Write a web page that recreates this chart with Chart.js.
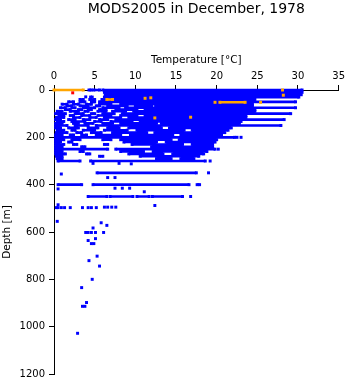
<!DOCTYPE html>
<html>
<head>
<meta charset="utf-8">
<script src="https://cdn.jsdelivr.net/npm/chart.js@4.4.1/dist/chart.umd.min.js"></script>
<style>
  html,body{margin:0;padding:0;background:#fff;}
  #wrap{width:348px;height:384px;}
</style>
</head>
<body>
<div id="wrap"><canvas id="profile"></canvas></div>
<script>
/* ---------------- observations: December 1978 ---------------- */

const TITLE = "MODS2005 in December, 1978";
const X_TICKS = [0, 5, 10, 15, 20, 25, 30, 35];
const Y_TICKS = [0, 200, 400, 600, 800, 1000, 1200];

// dense casts: [depth, tFrom, tTo, tFrom, tTo, ...]
const blueRows = [
  [0, 4.3,4.6, 4.9,5.6, 6.0,30.5],
  [10, 6.2,30.5],
  [20, 6.3,30.4],
  [30, 4.5,4.7, 6.2,30.1],
  [40, 3.2,3.6, 4.4,5.0, 5.9,24.7],
  [50, 1.8,2.4, 3.2,3.8, 4.6,5.0, 5.6,29.7],
  [60, 1.0,1.6, 2.4,3.0, 4.0,4.6, 5.6,7.0, 8.2,24.4],
  [67, 1.6,2.2, 3.2,4.2, 5.2,5.6, 6.6,9.0, 10.0,12.0, 12.5,24.4],
  [75, 0.8,1.4, 2.2,2.6, 3.6,5.0, 6.0,8.0, 8.8,29.7],
  [83, 1.4,2.0, 3.0,3.4, 4.2,4.6, 5.6,6.4, 7.6,10.2, 11.2,24.7],
  [90, 0.4,1.0, 2.0,3.0, 3.8,4.2, 5.4,6.4, 7.2,8.8, 9.8,24.7],
  [100, 0.2,1.4, 2.6,3.6, 4.6,5.0, 6.0,7.4, 8.4,29.1],
  [108, 0.6,1.2, 2.0,2.4, 3.4,4.4, 5.4,7.0, 8.2,10.2, 11.2,23.6],
  [116, 0.3,1.2, 2.4,3.2, 4.4,5.2, 6.2,8.2, 9.2,23.6],
  [125, 0.2,0.8, 1.8,2.6, 3.6,4.4, 5.6,6.6, 7.6,28.3],
  [133, 0.4,1.2, 2.2,3.8, 5.0,5.8, 7.0,9.6, 10.6,23.0],
  [141, 0.2,1.0, 2.4,3.0, 3.8,4.8, 6.0,7.2, 8.2,12.6, 13.2,22.8],
  [150, 0.2,1.6, 2.6,4.2, 5.2,27.9],
  [160, 0.2,0.8, 1.8,3.0, 4.2,5.4, 6.6,8.0, 9.2,13.2, 14.2,21.8],
  [170, 0.4,1.2, 2.2,2.6, 3.6,5.0, 6.2,9.0, 10.2,16.0, 17.0,21.4],
  [180, 0.3,1.6, 2.8,3.4, 4.6,5.8, 7.2,11.4, 12.4,21.0],
  [190, 0.2,1.0, 2.0,2.4, 3.4,4.0, 5.2,8.2, 9.4,14.6, 15.6,20.6],
  [200, 0.2,22.2],
  [210, 0.2,1.2, 2.2,3.2, 6.0,7.0, 8.2,14.4, 15.4,20.0],
  [220, 0.2,0.8, 1.8,2.2, 8.6,12.6, 13.8,19.8],
  [230, 0.2,1.2, 2.4,2.8, 6.2,6.6, 9.6,15.8, 17.0,19.5],
  [240, 0.2,1.0, 3.4,3.8, 12.0,19.5],
  [250, 0.2,6.6, 7.6,19.8],
  [260, 0.2,1.0, 3.2,3.6, 8.2,11.0, 12.2,18.8],
  [270, 0.2,1.4, 4.0,4.4, 9.2,13.4, 14.6,18.4],
  [280, 0.3,1.0, 5.6,6.0, 10.6,17.8],
  [290, 0.4,1.0, 12.6,14.4, 15.6,17.2],
  [300, 0.5,3.2, 4.5,18.6],
  [350, 5.3,17.5],
  [400, 0.5,3.4, 4.8,16.6, 17.6,17.9],
  [450, 4.2,6.5, 6.9,9.7, 10.2,11.7, 12.1,15.8]
];

// single readings
const blueTemp  = [3.9, 22.5, 23.0, 20.2, 19.2, 19.0, 16.8, 0.9, 0.5, 0.5, 0.3, 0.5, 0.9, 1.3, 2.0, 3.5, 4.2, 4.6, 5.2, 6.2, 6.6, 7.1, 7.6,
                   12.4, 11.1, 7.5, 8.4, 9.3, 6.6, 7.5, 8.0, 9.5, 4.8, 0.4, 3.9, 4.2, 4.6, 5.1, 6.1, 5.8, 6.5, 4.8, 5.1, 4.2, 4.6, 4.9,
                   5.3, 4.3, 5.6, 4.7, 3.4, 4.0, 3.8, 3.5, 2.9];
const blueDepth = [29, 200, 200, 250, 300, 350, 450, 355, 418, 485, 497, 497, 497, 497, 497, 497, 497, 497, 497, 495, 495, 495, 495,
                   488, 430, 415, 415, 415, 370, 370, 310, 312, 310, 555, 602, 602, 602, 602, 602, 561, 572, 583, 628, 636, 649, 649,
                   702, 721, 744, 800, 835, 898, 914, 914, 1028];

const orangeRows  = [[0, 0.0,3.6], [40, 6.5,7.2], [52, 20.4,23.5]];
const orangeTemp  = [11.2, 11.9, 12.4, 16.8, 19.8, 25.4, 28.1, 28.2];
const orangeDepth = [35, 33, 118, 115, 52, 52, 0, 22];

const redTemp  = [2.3];
const redDepth = [12];

/* ---------------- helpers ---------------- */

const BLUE = "#0000ff", ORANGE = "#ffa500", RED = "#ff0000";
const FONT = '"DejaVu Sans", Verdana, sans-serif';

function rowsToSegments(rows){
  const pts = [];
  rows.forEach(r => {
    const d = r[0];
    for (let i = 1; i < r.length; i += 2) {
      pts.push({x:r[i], y:d}, {x:r[i+1], y:d}, {x:null, y:null});
    }
  });
  return pts;
}
function toPoints(temps, depths){
  return temps.map((t,i) => ({x:t, y:depths[i]}));
}
function bandSet(rows, color, order){
  return {data:rowsToSegments(rows), showLine:true, borderColor:color, borderWidth:2.6, borderCapStyle:"butt",
          pointStyle:"rect", pointRadius:2.1, pointBorderWidth:0, backgroundColor:color, order, clip:false};
}
function dotSet(temps, depths, color, order){
  return {data:toPoints(temps, depths), showLine:false, pointStyle:"rect", pointRadius:2.1, pointBorderWidth:0,
          backgroundColor:color, borderColor:color, order, clip:false};
}

const titlePlugin = {
  id:"plotTitle",
  afterDraw(chart){
    const {ctx, chartArea:a} = chart;
    ctx.save();
    ctx.font = "14px " + FONT;
    ctx.fillStyle = "#000";
    ctx.textAlign = "center";
    ctx.textBaseline = "alphabetic";
    ctx.fillText(TITLE, (a.left + a.right) / 2, 13);
    ctx.restore();
  }
};

Chart.defaults.font.family = FONT;
Chart.defaults.color = "#000";

new Chart(document.getElementById("profile"), {
  type:"scatter",
  data:{datasets:[
    dotSet(redTemp, redDepth, RED, 0),
    dotSet(orangeTemp, orangeDepth, ORANGE, 1),
    bandSet(orangeRows, ORANGE, 2),
    dotSet(blueTemp, blueDepth, BLUE, 3),
    bandSet(blueRows, BLUE, 4)
  ]},
  options:{
    responsive:true, maintainAspectRatio:false, animation:false,
    layout:{padding:{top:40, right:8, bottom:9, left:0}},
    plugins:{legend:{display:false}, tooltip:{enabled:false}},
    scales:{
      x:{
        type:"linear", position:"top", min:0, max:35,
        afterFit(s){ s.height = 50; },
        afterBuildTicks(s){ s.ticks = X_TICKS.map(v => ({value:v})); },
        ticks:{font:{size:10}, padding:3, callback:v => String(v)},
        grid:{drawOnChartArea:false, tickLength:5, color:"#000"},
        border:{display:true, color:"#000", width:1},
        title:{display:true, text:"Temperature [°C]", font:{size:10.5}, padding:{top:14, bottom:0}}
      },
      y:{
        type:"linear", reverse:true, min:0, max:1200,
        afterFit(s){ s.width = 54; },
        afterBuildTicks(s){ s.ticks = Y_TICKS.map(v => ({value:v})); },
        ticks:{font:{size:10}, padding:4, callback:v => String(v)},
        grid:{drawOnChartArea:false, tickLength:5, color:"#000"},
        border:{display:true, color:"#000", width:1},
        title:{display:true, text:"Depth [m]", font:{size:10.5}, padding:{top:1, bottom:0}}
      }
    }
  },
  plugins:[titlePlugin]
});
</script>
</body>
</html>
